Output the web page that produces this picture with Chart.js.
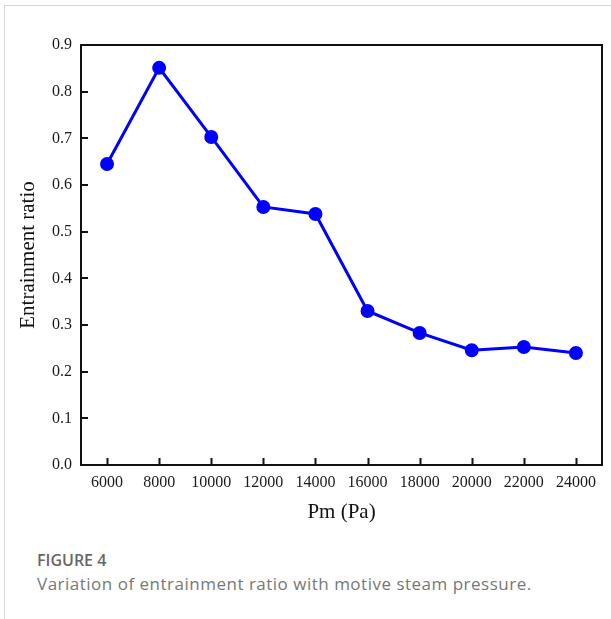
<!DOCTYPE html>
<html>
<head>
<meta charset="utf-8">
<script src="https://cdn.jsdelivr.net/npm/chart.js@4.4.1/dist/chart.umd.min.js"></script>
<style>
  body { margin: 0; background: #fff; }
  .tarjeta { position: absolute; left: 4px; top: 5px; width: 607px; height: 614px;
             border-left: 1px solid #d6d6d6; border-top: 1px solid #d6d6d6; }
  #grafico { position: absolute; left: 0; top: 0; }
  .num, .leyenda { position: absolute; left: 37px; font-family: "Open Sans", sans-serif; white-space: nowrap; }
  .num { top: 549px; font-size: 16px; font-weight: 600; color: #666; }
  .leyenda { top: 572px; font-size: 17px; color: #777; letter-spacing: 0.5px; }
</style>
</head>
<body>
<div class="tarjeta"></div>
<canvas id="grafico" width="611" height="535"></canvas>
<div class="num">FIGURE 4</div>
<div class="leyenda">Variation of entrainment ratio with motive steam pressure.</div>
<script>
// presion motriz (Pa) y relacion de arrastre
const presiones = ["6000", "8000", "10000", "12000", "14000", "16000", "18000", "20000", "22000", "24000"];
const relacion = [0.645, 0.851, 0.703, 0.553, 0.538, 0.330, 0.283, 0.246, 0.253, 0.240];
const marcasY = [0, 0.1, 0.2, 0.3, 0.4, 0.5, 0.6, 0.7, 0.8, 0.9];

const fuenteEjes = "'Liberation Serif', 'Times New Roman', serif";

// marco negro y marcas hacia adentro
const marco = {
  id: 'marco',
  beforeDatasetsDraw(chart) {
    const ctx = chart.ctx;
    const a = chart.chartArea;
    const x = chart.scales.x, y = chart.scales.y;
    ctx.save();
    ctx.strokeStyle = '#111';
    ctx.lineWidth = 2;
    ctx.strokeRect(a.left, a.top, a.right - a.left, a.bottom - a.top);
    ctx.beginPath();
    for (let i = 0; i < presiones.length; i++) {
      const px = Math.round(x.getPixelForTick(i)) + 0.5;
      ctx.moveTo(px, a.bottom);
      ctx.lineTo(px, a.bottom - 7);
    }
    marcasY.forEach(v => {
      const py = Math.round(y.getPixelForValue(v));
      ctx.moveTo(a.left, py);
      ctx.lineTo(a.left + 7, py);
    });
    ctx.stroke();
    ctx.restore();
  }
};

new Chart(document.getElementById('grafico'), {
  type: 'line',
  data: {
    labels: presiones,
    datasets: [{
      data: relacion,
      borderColor: '#0000ff',
      backgroundColor: '#0000ff',
      borderWidth: 3,
      pointRadius: 5.5,
      pointHoverRadius: 5.5,
      tension: 0,
      fill: false
    }]
  },
  plugins: [marco],
  options: {
    responsive: false,
    animation: false,
    layout: { padding: { top: 45, right: 9, left: 0, bottom: 0 } },
    plugins: { legend: { display: false }, tooltip: { enabled: false } },
    scales: {
      x: {
        type: 'category',
        offset: true,
        grid: { display: false, drawTicks: false },
        border: { display: false },
        ticks: { color: '#1a1a1a', font: { family: fuenteEjes, size: 16 }, padding: 8, maxRotation: 0, autoSkip: false },
        title: { display: true, text: 'Pm (Pa)', color: '#111', font: { family: fuenteEjes, size: 21 }, padding: { top: 0, bottom: 10 } },
        afterFit(scale) { scale.height = 70; }
      },
      y: {
        min: 0,
        max: 0.9,
        grid: { display: false, drawTicks: false },
        border: { display: false },
        afterBuildTicks(scale) { scale.ticks = marcasY.map(v => ({ value: v })); },
        ticks: { color: '#1a1a1a', font: { family: fuenteEjes, size: 16 }, padding: 9, callback: v => v.toFixed(1) },
        title: { display: true, text: 'Entrainment ratio', color: '#111', font: { family: fuenteEjes, size: 21 }, padding: { top: 16, bottom: 0 } },
        afterFit(scale) { scale.width = 81; }
      }
    }
  }
});
</script>
</body>
</html>
